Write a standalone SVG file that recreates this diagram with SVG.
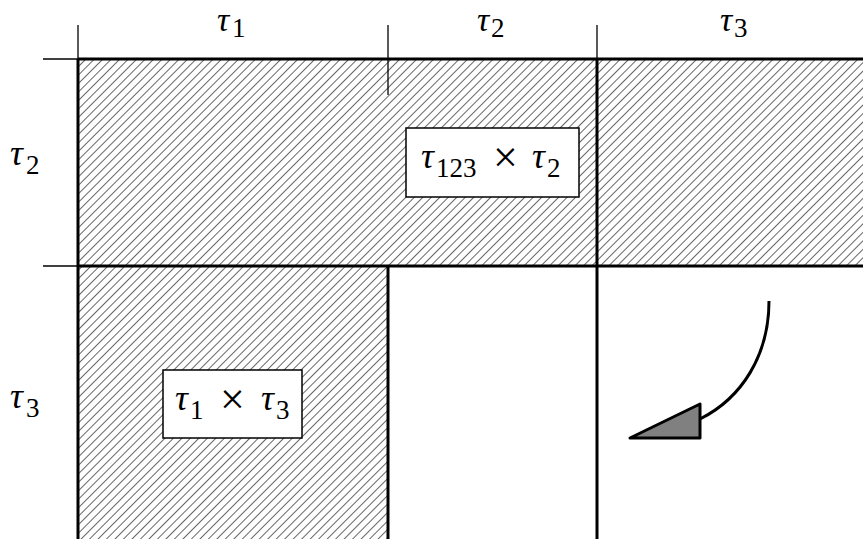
<svg xmlns="http://www.w3.org/2000/svg" width="863" height="539" viewBox="0 0 863 539">
<style>
.thick{stroke:#000;stroke-width:3;fill:none}
.thin{stroke:#000;stroke-width:1.3;fill:none}
.lbl{font-family:"Liberation Serif",serif;font-size:36px;fill:#000}
.top{font-size:34px}
.it{font-style:italic}
.sub{font-size:27px}
.times{font-size:44px}
.box{fill:#fff;stroke:#000;stroke-width:1.5}
</style>
<defs>
<pattern id="hatch" patternUnits="userSpaceOnUse" width="6" height="6" patternTransform="rotate(45)">
<line x1="0" y1="0" x2="0" y2="6" stroke="#000" stroke-width="1.2"/>
</pattern>
</defs>
<rect width="863" height="539" fill="#fff"/>
<g id="hatched-region">
<polygon points="78,59 863,59 863,266 388,266 388,539 78,539" fill="url(#hatch)"/>
</g>
<g id="grid">
<line class="thick" x1="78" y1="59" x2="863" y2="59"/>
<line class="thick" x1="78" y1="266" x2="863" y2="266"/>
<line class="thick" x1="78" y1="59" x2="78" y2="539"/>
<line class="thick" x1="388" y1="266" x2="388" y2="539"/>
<line class="thick" x1="597" y1="59" x2="597" y2="539"/>
<line class="thin" x1="78" y1="25" x2="78" y2="59"/>
<line class="thin" x1="388" y1="25" x2="388" y2="95"/>
<line class="thin" x1="597" y1="25" x2="597" y2="59"/>
<line class="thin" x1="43" y1="59" x2="78" y2="59"/>
<line class="thin" x1="43" y1="266" x2="78" y2="266"/>
</g>
<g id="axis-labels" class="lbl">
<text class="top"><tspan class="it" x="217" y="31">τ</tspan><tspan class="sub" x="232" y="37">1</tspan></text>
<text class="top"><tspan class="it" x="477" y="31">τ</tspan><tspan class="sub" x="491" y="37">2</tspan></text>
<text class="top"><tspan class="it" x="720" y="31">τ</tspan><tspan class="sub" x="734" y="37">3</tspan></text>
<text><tspan class="it" x="10" y="165">τ</tspan><tspan class="sub" x="26" y="174">2</tspan></text>
<text><tspan class="it" x="10" y="408">τ</tspan><tspan class="sub" x="26" y="417">3</tspan></text>
</g>
<g id="node-t123xt2">
<rect class="box" x="406" y="128" width="173" height="69"/>
<text class="lbl"><tspan class="it" x="421" y="168">τ</tspan><tspan class="sub" x="436" y="177">123</tspan><tspan class="times" x="493" y="172">×</tspan><tspan class="it" x="532" y="168">τ</tspan><tspan class="sub" x="547" y="177">2</tspan></text>
</g>
<g id="node-t1xt3">
<rect class="box" x="163" y="370" width="139" height="68"/>
<text class="lbl"><tspan class="it" x="175" y="410">τ</tspan><tspan class="sub" x="190" y="419">1</tspan><tspan class="times" x="220" y="414">×</tspan><tspan class="it" x="261" y="410">τ</tspan><tspan class="sub" x="276" y="419">3</tspan></text>
</g>
<g id="connectors">
<path d="M769,301 C769,355 742,398 700,419" stroke="#000" stroke-width="3" fill="none"/>
<polygon points="630,438 700,404 700,438" fill="#808080" stroke="#000" stroke-width="3" stroke-linejoin="round"/>
</g>
</svg>
